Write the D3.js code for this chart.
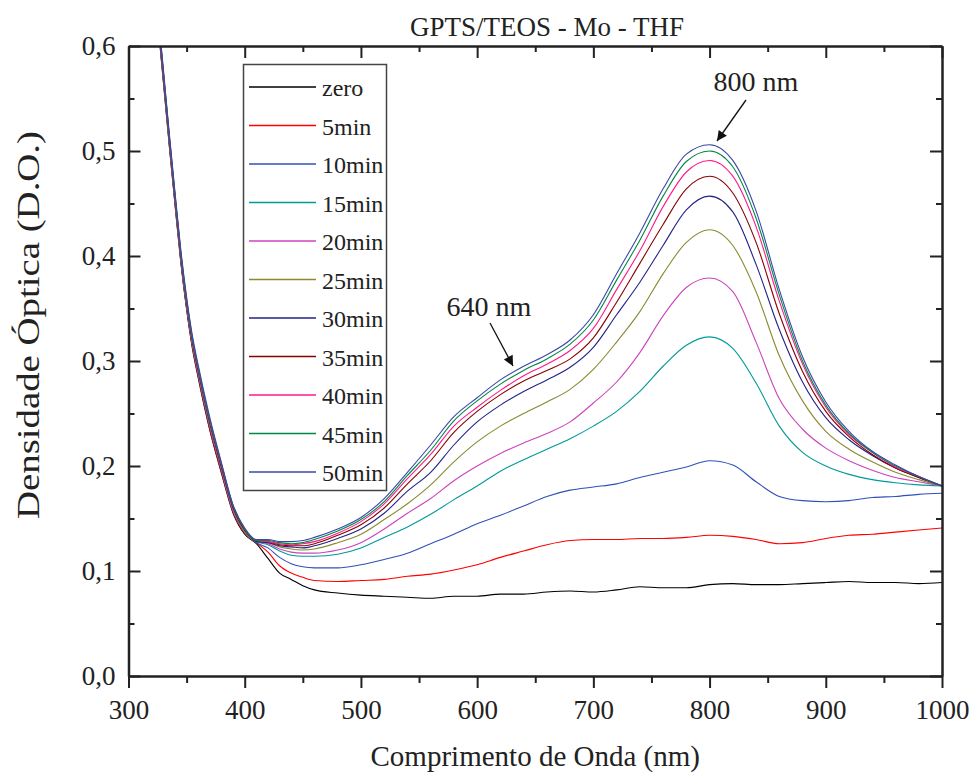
<!DOCTYPE html>
<html>
  <head>
    <meta charset="utf-8">
    <title>GPTS/TEOS - Mo - THF</title>
    <script src="https://cdn.jsdelivr.net/npm/d3@7/dist/d3.min.js"></script>
    <style>
      body { margin: 0; background: #fff; }
      svg text { font-family: "Times New Roman", "Liberation Serif", serif; fill: #222; }
    </style>
  </head>
  <body>
    <div id="chart"></div>
    <script>
    // wavelength grid (nm)
    var wavelengths = [320,325,330,335,340,345,350,355,360,370,380,390,400,410,
        420,430,440,450,460,480,500,520,540,560,580,600,620,640,660,680,700,
        720,740,760,780,800,820,840,860,880,900,920,940,960,980,1000];

    // optical density, one array per time
    var zero = [0.694,0.626,0.566,0.506,0.449,0.394,0.349,0.312,0.284,0.234,0.193,0.155,0.135,0.126,
        0.112,0.098,0.092,0.086,0.082,0.079,0.077,0.076,0.075,0.074,0.076,0.076,0.078,0.078,0.080,0.081,0.080,
        0.082,0.085,0.084,0.084,0.087,0.088,0.087,0.087,0.088,0.089,0.090,0.089,0.089,0.088,0.089];
    var min5 = [0.695,0.627,0.567,0.507,0.450,0.395,0.350,0.313,0.285,0.235,0.194,0.156,0.136,0.127,
        0.118,0.105,0.098,0.094,0.091,0.090,0.091,0.092,0.095,0.097,0.101,0.106,0.113,0.119,0.125,0.129,0.130,
        0.130,0.131,0.131,0.132,0.134,0.133,0.130,0.126,0.127,0.131,0.134,0.135,0.137,0.139,0.141];
    var min10 = [0.697,0.629,0.569,0.509,0.452,0.397,0.352,0.315,0.287,0.237,0.196,0.157,0.137,0.127,
        0.122,0.113,0.107,0.104,0.103,0.103,0.106,0.111,0.117,0.126,0.135,0.145,0.153,0.162,0.171,0.177,0.180,
        0.183,0.189,0.194,0.199,0.205,0.201,0.185,0.171,0.167,0.166,0.167,0.170,0.171,0.173,0.174];
    var min15 = [0.698,0.630,0.570,0.510,0.453,0.398,0.353,0.316,0.288,0.238,0.197,0.158,0.137,0.128,
        0.125,0.119,0.115,0.114,0.114,0.116,0.122,0.132,0.142,0.154,0.168,0.181,0.195,0.206,0.216,0.226,0.238,
        0.252,0.271,0.295,0.315,0.323,0.312,0.279,0.238,0.213,0.200,0.192,0.187,0.184,0.182,0.181];
    var min20 = [0.699,0.631,0.571,0.511,0.454,0.399,0.354,0.317,0.289,0.239,0.197,0.158,0.138,0.128,
        0.126,0.121,0.118,0.117,0.117,0.120,0.127,0.140,0.155,0.169,0.186,0.200,0.212,0.222,0.231,0.242,0.260,
        0.280,0.308,0.343,0.370,0.379,0.366,0.318,0.264,0.235,0.217,0.205,0.196,0.189,0.185,0.181];
    var min25 = [0.700,0.632,0.572,0.512,0.455,0.400,0.355,0.318,0.290,0.240,0.198,0.159,0.138,0.128,
        0.127,0.123,0.121,0.120,0.121,0.127,0.135,0.149,0.164,0.182,0.204,0.223,0.238,0.250,0.261,0.273,0.292,
        0.318,0.347,0.383,0.413,0.425,0.410,0.366,0.305,0.262,0.233,0.216,0.204,0.194,0.187,0.181];
    var min30 = [0.701,0.633,0.573,0.513,0.456,0.401,0.356,0.319,0.291,0.241,0.199,0.160,0.139,0.128,
        0.127,0.124,0.123,0.122,0.124,0.131,0.140,0.155,0.176,0.194,0.220,0.242,0.258,0.271,0.282,0.294,0.313,
        0.344,0.375,0.410,0.444,0.457,0.442,0.392,0.330,0.280,0.246,0.225,0.210,0.198,0.189,0.181];
    var min35 = [0.702,0.634,0.574,0.514,0.457,0.402,0.357,0.320,0.292,0.242,0.200,0.161,0.139,0.129,
        0.128,0.125,0.124,0.124,0.126,0.134,0.144,0.160,0.183,0.205,0.232,0.252,0.268,0.281,0.291,0.302,0.322,
        0.356,0.393,0.430,0.464,0.476,0.460,0.413,0.345,0.290,0.252,0.228,0.211,0.198,0.189,0.181];
    var min40 = [0.703,0.635,0.575,0.515,0.458,0.403,0.358,0.321,0.293,0.243,0.201,0.162,0.140,0.129,
        0.128,0.126,0.125,0.126,0.128,0.136,0.147,0.164,0.188,0.211,0.238,0.256,0.272,0.286,0.297,0.310,0.331,
        0.368,0.405,0.447,0.480,0.491,0.476,0.428,0.357,0.297,0.256,0.230,0.213,0.199,0.190,0.181];
    var min45 = [0.704,0.636,0.576,0.516,0.459,0.404,0.359,0.322,0.294,0.244,0.202,0.162,0.140,0.129,
        0.129,0.127,0.126,0.127,0.130,0.138,0.149,0.166,0.191,0.215,0.243,0.262,0.278,0.291,0.302,0.316,0.339,
        0.377,0.415,0.457,0.490,0.500,0.485,0.436,0.363,0.300,0.258,0.231,0.213,0.200,0.190,0.181];
    var min50 = [0.706,0.638,0.578,0.518,0.461,0.406,0.361,0.324,0.296,0.246,0.203,0.163,0.141,0.130,
        0.130,0.128,0.128,0.129,0.132,0.140,0.151,0.169,0.194,0.220,0.247,0.265,0.282,0.295,0.306,0.320,0.344,
        0.383,0.422,0.464,0.497,0.506,0.491,0.443,0.368,0.304,0.261,0.233,0.214,0.201,0.190,0.181];

    var labels = ["zero","5min","10min","15min","20min","25min","30min","35min","40min","45min","50min"];
    var colors = ["#000000","#ff0000","#3050b8","#009a9a","#cc44bb","#8a8a30",
                  "#222288","#880000","#ff1a8c","#008844","#3a48aa"];
    var seriesValues = [zero,min5,min10,min15,min20,min25,min30,min35,min40,min45,min50];

    var xTicks = [300,400,500,600,700,800,900,1000];
    var yTicks = [0.0,0.1,0.2,0.3,0.4,0.5,0.6];

    var width = 974, height = 775;
    var margin = {top: 46, right: 32, bottom: 99, left: 128.5};

    var svg = d3.select("#chart").append("svg")
        .attr("width", width)
        .attr("height", height);

    var xScale = d3.scaleLinear().domain([300, 1000]).range([margin.left, width - margin.right]);
    var yScale = d3.scaleLinear().domain([0, 0.6]).range([height - margin.bottom, margin.top]);

    var fmt = function(d) { return d3.format(".1f")(d).replace(".", ","); };

    svg.append("clipPath").attr("id", "plotClip")
        .append("rect")
        .attr("x", margin.left).attr("y", margin.top)
        .attr("width", xScale(1000) - margin.left)
        .attr("height", yScale(0) - margin.top);

    // curves
    var line = d3.line()
        .x(function(d) { return xScale(d[0]); })
        .y(function(d) { return yScale(d[1]); })
        .curve(d3.curveMonotoneX);

    var curves = svg.append("g").attr("clip-path", "url(#plotClip)");
    seriesValues.forEach(function(vals, i) {
        curves.append("path")
            .datum(wavelengths.map(function(w, j) { return [w, vals[j]]; }))
            .attr("fill", "none")
            .attr("stroke", colors[i])
            .attr("stroke-width", 1.1)
            .attr("d", line);
    });

    // axes: bottom ticks outward, the rest inward
    var xMinor = d3.range(300, 1001, 50);
    var yMinor = d3.range(0, 0.601, 0.05);
    var isMajorX = function(d) { return xTicks.indexOf(d) >= 0; };
    var isMajorY = function(d) { return Math.abs(d * 10 - Math.round(d * 10)) < 1e-6; };

    function styleAxis(g) {
        g.select(".domain").attr("stroke", "#222").attr("stroke-width", 2.5);
        g.selectAll(".tick line").attr("stroke", "#222").attr("stroke-width", 2);
        g.selectAll(".tick text").attr("font-size", 27).attr("fill", "#222")
            .style("font-family", '"Times New Roman", "Liberation Serif", serif');
    }

    var axBottom = svg.append("g")
        .attr("transform", "translate(0," + yScale(0) + ")")
        .call(d3.axisBottom(xScale).tickValues(xMinor).tickSize(7).tickSizeOuter(0)
            .tickFormat(function(d) { return isMajorX(d) ? d : ""; }));
    axBottom.selectAll(".tick").filter(isMajorX).select("line").attr("y2", 12);
    axBottom.selectAll(".tick text").attr("y", 24).attr("dy", "0.71em");
    styleAxis(axBottom);

    var axTop = svg.append("g")
        .attr("transform", "translate(0," + yScale(0.6) + ")")
        .call(d3.axisBottom(xScale).tickValues(xMinor).tickSize(6).tickSizeOuter(0).tickFormat(""));
    axTop.selectAll(".tick").filter(isMajorX).select("line").attr("y2", 12);
    styleAxis(axTop);

    var axLeft = svg.append("g")
        .attr("transform", "translate(" + xScale(300) + ",0)")
        .call(d3.axisRight(yScale).tickValues(yMinor).tickSize(6).tickSizeOuter(0)
            .tickFormat(function(d) { return isMajorY(d) ? fmt(d) : ""; }));
    axLeft.selectAll(".tick").filter(isMajorY).select("line").attr("x2", 12);
    axLeft.selectAll(".tick text").attr("x", -13).attr("text-anchor", "end");
    styleAxis(axLeft);

    var axRight = svg.append("g")
        .attr("transform", "translate(" + xScale(1000) + ",0)")
        .call(d3.axisLeft(yScale).tickValues(yMinor).tickSize(6).tickSizeOuter(0).tickFormat(""));
    axRight.selectAll(".tick").filter(isMajorY).select("line").attr("x2", -12);
    styleAxis(axRight);

    // titles
    svg.append("text")
        .attr("x", 547).attr("y", 36)
        .attr("text-anchor", "middle")
        .attr("font-size", 27)
        .text("GPTS/TEOS - Mo - THF");

    svg.append("text")
        .attr("x", (xScale(300) + xScale(1000)) / 2).attr("y", 766)
        .attr("text-anchor", "middle")
        .attr("font-size", 29)
        .text("Comprimento de Onda (nm)");

    // the y title is drawn long, as in the source figure
    svg.append("text")
        .attr("transform", "translate(39,325) rotate(-90)")
        .attr("text-anchor", "middle")
        .attr("font-size", 32)
        .attr("textLength", 388)
        .attr("lengthAdjust", "spacingAndGlyphs")
        .text("Densidade Óptica (D.O.)");

    // legend
    var legend = svg.append("g");
    legend.append("rect")
        .attr("x", 243.5).attr("y", 64.5)
        .attr("width", 143).attr("height", 426)
        .attr("fill", "#fff")
        .attr("stroke", "#444").attr("stroke-width", 1.5);
    labels.forEach(function(lab, i) {
        var y = 87 + i * 38.5;
        legend.append("line")
            .attr("x1", 249).attr("x2", 316)
            .attr("y1", y).attr("y2", y)
            .attr("stroke", colors[i]).attr("stroke-width", 1.3);
        legend.append("text")
            .attr("x", 322).attr("y", y + 9)
            .attr("font-size", 24)
            .text(lab);
    });

    // annotations
    svg.append("defs").append("marker")
        .attr("id", "arrow")
        .attr("viewBox", "0 0 10 10")
        .attr("refX", 10).attr("refY", 5)
        .attr("markerWidth", 14).attr("markerHeight", 10)
        .attr("markerUnits", "userSpaceOnUse")
        .attr("orient", "auto")
        .append("path").attr("d", "M0,0 L10,5 L0,10 z").attr("fill", "#111");

    var notes = [
        {text: "800 nm", tx: 756, ty: 91, x1: 746, y1: 100, x2: 717, y2: 141},
        {text: "640 nm", tx: 489, ty: 316, x1: 490, y1: 323, x2: 513, y2: 366}
    ];
    notes.forEach(function(n) {
        svg.append("text")
            .attr("x", n.tx).attr("y", n.ty)
            .attr("text-anchor", "middle")
            .attr("font-size", 28)
            .text(n.text);
        svg.append("line")
            .attr("x1", n.x1).attr("y1", n.y1)
            .attr("x2", n.x2).attr("y2", n.y2)
            .attr("stroke", "#111").attr("stroke-width", 1.3)
            .attr("marker-end", "url(#arrow)");
    });
    </script>
  </body>
</html>
